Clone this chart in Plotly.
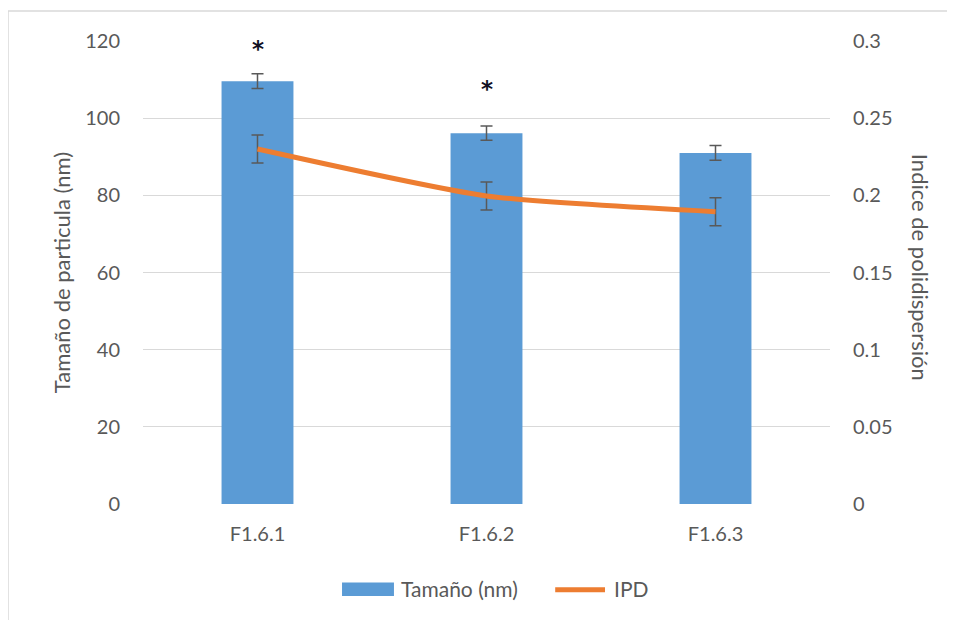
import plotly.graph_objects as go

categories = ["F1.6.1", "F1.6.2", "F1.6.3"]
size_nm = [109.6, 96.1, 91.0]
size_err = [1.9, 1.85, 1.9]
ipd = [0.23, 0.1996, 0.1894]
ipd_err = [0.0091, 0.0091, 0.0091]
sig_marks = ["*", "*", ""]
sig_y = [118.0, 107.5, None]

y_ticks = [0, 20, 40, 60, 80, 100, 120]
y2_ticks = [0, 0.05, 0.1, 0.15, 0.2, 0.25, 0.3]
y2_labels = ["0", "0.05", "0.1", "0.15", "0.2", "0.25", "0.3"]

FONT = "Lato, 'Open Sans', sans-serif"
GRAY = "#595959"
BLUE = "#5B9BD5"
ORANGE = "#ED7D31"

fig = go.Figure()
fig.add_trace(go.Bar(
    x=categories, y=size_nm, name="Tamaño (nm)",
    marker=dict(color=BLUE, line=dict(width=0)),
    error_y=dict(type="data", array=size_err, color=GRAY, thickness=1.5, width=6),
    yaxis="y", showlegend=False,
))
fig.add_trace(go.Scatter(
    x=categories, y=ipd, name="IPD", mode="lines",
    line=dict(color=ORANGE, width=5, shape="spline", smoothing=0.6),
    error_y=dict(type="data", array=ipd_err, color=GRAY, thickness=1.5, width=6),
    yaxis="y2", showlegend=False,
))

for c, m, yy in zip(categories, sig_marks, sig_y):
    if m and yy is not None:
        fig.add_annotation(x=c, y=yy, xref="x", yref="y", text="<b>" + m + "</b>", showarrow=False,
                           font=dict(size=23, color="#111122", family="DejaVu Sans"))

# right axis title (reads top to bottom)
fig.add_annotation(x=1.131, y=0.51, xref="paper", yref="paper", text="Indice de polidispersión",
                   textangle=90, showarrow=False, xanchor="center", yanchor="middle",
                   font=dict(size=22, color=GRAY, family=FONT))

# custom legend
fig.add_shape(type="rect", xref="paper", yref="paper", x0=0.2897, x1=0.3653, y0=-0.1987, y1=-0.1698,
              line=dict(width=0), fillcolor=BLUE)
fig.add_annotation(x=0.3726, y=-0.182, xref="paper", yref="paper", text="Tamaño (nm)",
                   xanchor="left", yanchor="middle",
                   showarrow=False, font=dict(size=21, color=GRAY, family=FONT))
fig.add_shape(type="line", xref="paper", yref="paper", x0=0.6, x1=0.6725, y0=-0.185, y1=-0.185,
              line=dict(color=ORANGE, width=5))
fig.add_annotation(x=0.6827, y=-0.182, xref="paper", yref="paper", text="IPD",
                   xanchor="left", yanchor="middle",
                   showarrow=False, font=dict(size=21, color=GRAY, family=FONT))

# chart border
fig.add_shape(type="rect", xref="paper", yref="paper", x0=-0.1965, x1=1.25, y0=-0.35, y1=1.065,
              line=dict(color="#d9d9d9", width=1.5), fillcolor="rgba(0,0,0,0)", layer="below")

fig.update_layout(
    width=947, height=612,
    margin=dict(l=135, r=125, t=33, b=116),
    paper_bgcolor="white", plot_bgcolor="white",
    bargap=0.686,
    font=dict(family=FONT, size=20, color=GRAY),
    showlegend=False,
    xaxis=dict(showgrid=False, showline=False, ticks="", tickfont=dict(size=20, color=GRAY),
               ticklabelstandoff=16),
    yaxis=dict(range=[0, 120], tickvals=y_ticks, showgrid=True, gridcolor="#d9d9d9", gridwidth=1.2,
               zeroline=False, showline=False, ticks="", ticklabelstandoff=22,
               tickfont=dict(size=20, color=GRAY),
               title=dict(text="Tamaño de particula (nm)", font=dict(size=22, color=GRAY), standoff=8)),
    yaxis2=dict(range=[0, 0.3], tickvals=y2_ticks, ticktext=y2_labels, overlaying="y", side="right",
                showgrid=False, zeroline=False, showline=False, ticks="", ticklabelstandoff=22,
                tickfont=dict(size=20, color=GRAY)),
)

fig.write_html("out.html")
